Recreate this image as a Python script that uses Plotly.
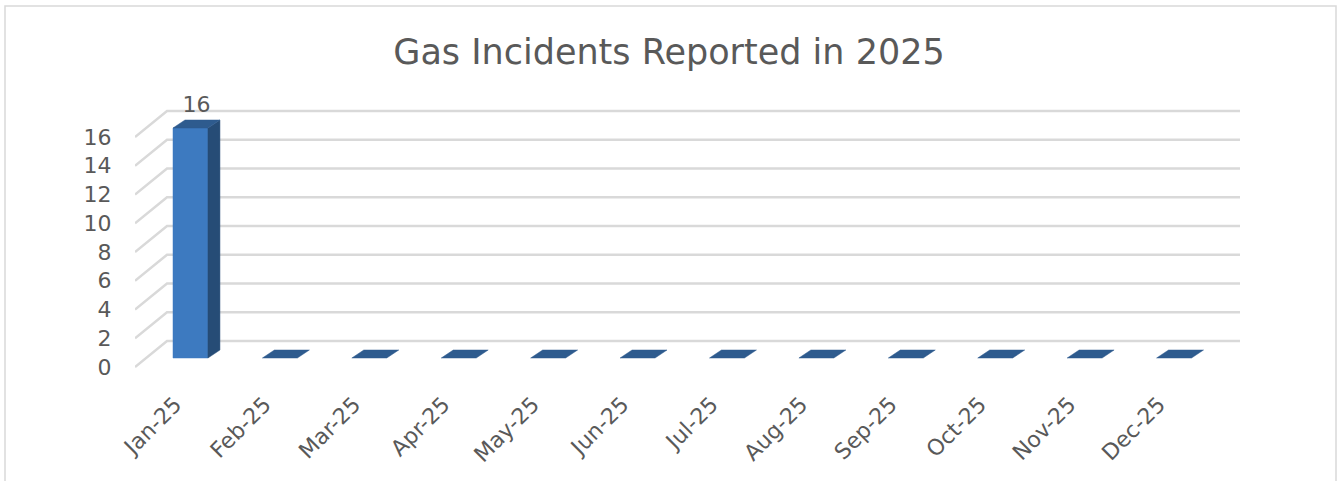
import plotly.graph_objects as go

# ---- data ----
months = ["Jan-25", "Feb-25", "Mar-25", "Apr-25", "May-25", "Jun-25",
          "Jul-25", "Aug-25", "Sep-25", "Oct-25", "Nov-25", "Dec-25"]
incidents = [16, 0, 0, 0, 0, 0, 0, 0, 0, 0, 0, 0]
y_ticks = [0, 2, 4, 6, 8, 10, 12, 14, 16]
title_text = "Gas Incidents Reported in 2025"

# ---- pseudo-3D geometry (in data units) ----
W, H = 1338, 481
L_M, R_M, T_M, B_M = 135, 98, 100, 101
n = len(months)
wall_dx, wall_dy = 0.358, 1.81      # depth of back wall
bar_x0, bar_w = 0.425, 0.391        # front face offset and width in a category
bar_base = 0.626                    # front face base lifted by depth
bar_dx, bar_dy = 0.134, 0.557       # depth of each bar
y_lo, y_hi = -0.904, 18.574
x_lo, x_hi = 0, n + wall_dx

font_fam = "DejaVu Sans, sans-serif"
txt_col = "#595959"
grid_col = "#d9d9d9"
front_col = "#3d7ac0"
side_col = "#264c76"
top_col = "#2e5b8e"

fig = go.Figure()

# back wall gridlines + left diagonal connectors
gx, gy = [], []
for t in y_ticks:
    gx += [0, wall_dx, n + wall_dx, None]
    gy += [t, t + wall_dy, t + wall_dy, None]
fig.add_trace(go.Scatter(x=gx, y=gy, mode="lines",
                         line=dict(color=grid_col, width=2.5),
                         hoverinfo="skip", showlegend=False))

fx, fy, sx, sy, tx, ty = [], [], [], [], [], []
for i, v in enumerate(incidents):
    x0 = i + bar_x0
    x1 = x0 + bar_w
    b = bar_base
    if v > 0:
        fx += [x0, x1, x1, x0, x0, None]
        fy += [b, b, b + v, b + v, b, None]
        sx += [x1, x1 + bar_dx, x1 + bar_dx, x1, x1, None]
        sy += [b, b + bar_dy, b + bar_dy + v, b + v, b, None]
    tx += [x0, x1, x1 + bar_dx, x0 + bar_dx, x0, None]
    ty += [b + v, b + v, b + v + bar_dy, b + v + bar_dy, b + v, None]

for xs, ys, col in [(fx, fy, front_col), (sx, sy, side_col), (tx, ty, top_col)]:
    fig.add_trace(go.Scatter(x=xs, y=ys, mode="lines", fill="toself",
                             fillcolor=col, line=dict(color=col, width=0.5),
                             hoverinfo="skip", showlegend=False))

# data labels for non-zero values
lab_x = [i + bar_x0 + bar_w / 2 + bar_dx / 2 for i, v in enumerate(incidents) if v > 0]
lab_y = [v + bar_base + bar_dy + 0.2 for v in incidents if v > 0]
lab_t = [str(v) for v in incidents if v > 0]
fig.add_trace(go.Scatter(x=lab_x, y=lab_y, mode="text", text=lab_t,
                         textposition="top center", cliponaxis=False,
                         textfont=dict(family=font_fam, size=22, color=txt_col),
                         hoverinfo="skip", showlegend=False))

fig.update_layout(
    width=W, height=H,
    margin=dict(l=L_M, r=R_M, t=T_M, b=B_M),
    paper_bgcolor="white", plot_bgcolor="white",
    title=dict(text=title_text, x=0.5, xanchor="center",
               y=1 - 52 / H, yanchor="middle", yref="container",
               font=dict(family=font_fam, size=35, color=txt_col)),
    font=dict(family=font_fam, color=txt_col),
    xaxis=dict(range=[x_lo, x_hi], showgrid=False, zeroline=False,
               showline=False, tickmode="array",
               tickvals=[i + 0.45 for i in range(n)], ticktext=months,
               tickangle=-45, ticks="outside", ticklen=2,
               tickcolor="rgba(0,0,0,0)",
               tickfont=dict(family=font_fam, size=22, color=txt_col)),
    yaxis=dict(range=[y_lo, y_hi], showgrid=False, zeroline=False,
               showline=False, tickmode="array", tickvals=y_ticks,
               ticktext=[str(t) for t in y_ticks],
               ticks="outside", ticklen=18, tickcolor="rgba(0,0,0,0)",
               tickfont=dict(family=font_fam, size=22, color=txt_col)),
    shapes=[dict(type="rect", xref="paper", yref="paper",
                 x0=(5 - L_M) / (W - L_M - R_M), x1=(1336 - L_M) / (W - L_M - R_M),
                 y0=(H - B_M - 500) / (H - T_M - B_M),
                 y1=(H - B_M - 6) / (H - T_M - B_M),
                 line=dict(color=grid_col, width=1.5), layer="below")],
)

fig.write_html("out.html", config={"displayModeBar": False},
               post_script="document.body.style.margin='0';document.body.style.overflow='hidden';")
